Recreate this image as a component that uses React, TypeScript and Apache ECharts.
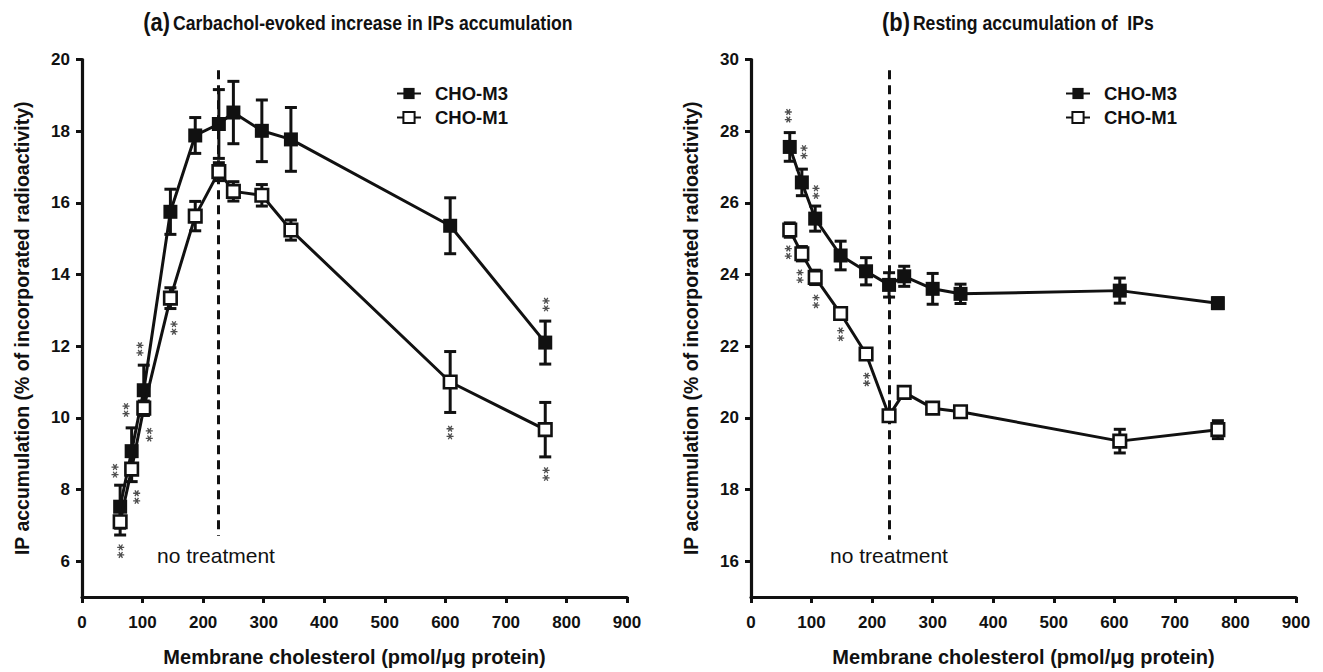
import React, { useEffect, useRef } from "react";
import * as echarts from "echarts";

// ---------- data ----------
const cholA = [63, 82, 102, 146, 187, 226, 250, 297, 345, 608, 765];
const m3A = [7.52, 9.07, 10.77, 15.75, 17.88, 18.2, 18.52, 18.01, 17.77, 15.36, 12.1];
const m3AErr = [0.6, 0.65, 0.7, 0.63, 0.5, 0.96, 0.87, 0.86, 0.89, 0.78, 0.6];
const m1A = [7.1, 8.57, 10.27, 13.34, 15.63, 16.87, 16.32, 16.21, 15.24, 11.0, 9.67];
const m1AErr = [0.37, 0.35, 0.2, 0.29, 0.41, 0.25, 0.27, 0.3, 0.28, 0.85, 0.76];

const cholB = [64, 84, 106, 148, 190, 228, 253, 300, 346, 609, 771];
const m3B = [27.56, 26.57, 25.56, 24.53, 24.09, 23.71, 23.95, 23.6, 23.46, 23.55, 23.2];
const m3BErr = [0.4, 0.37, 0.35, 0.4, 0.38, 0.34, 0.28, 0.43, 0.27, 0.35, 0.15];
const m1B = [25.24, 24.58, 23.92, 22.91, 21.78, 20.06, 20.71, 20.27, 20.17, 19.35, 19.67];
const m1BErr = [0.2, 0.2, 0.2, 0.15, 0.15, 0.15, 0.12, 0.1, 0.1, 0.33, 0.25];

// significance marks (**) positions in data units
const starsA = [
  [63.9, 6.28], [54.5, 8.52], [90.3, 7.79], [72.7, 10.22], [111.1, 9.53],
  [95.7, 11.92], [151.9, 12.51], [766.3, 13.16], [766.3, 8.43], [607.8, 9.59],
];
const starsB = [
  [61.6, 28.43], [87.5, 27.42], [107.3, 26.3], [61.6, 24.62], [80.9, 23.95],
  [107.3, 23.25], [148.1, 22.33], [191.1, 21.07],
];

const controlA = 225;
const controlB = 228;
const ticksA = [6, 8, 10, 12, 14, 16, 18, 20];
const ticksB = [16, 18, 20, 22, 24, 26, 28, 30];

const titleA = "Carbachol-evoked increase in IPs accumulation";
const titleB = "Resting accumulation of  IPs";
const xName = "Membrane cholesterol (pmol/\u03bcg protein)";
const yName = "IP accumulation (% of incorporated radioactivity)";

// ---------- styling ----------
const FONT = "'Liberation Sans', Arial, sans-serif";
const INK = "#111";

// vertical double-asterisk glyph as a filled path symbol
function starPath(): string {
  const r = 5;
  const t = 1.9;
  const parts: string[] = [];
  [-5.6, 5.6].forEach((cy) => {
    [0, 60, 120].forEach((deg) => {
      const a = (deg * Math.PI) / 180;
      const ux = Math.cos(a), uy = Math.sin(a);
      const vx = -uy, vy = ux;
      const h = t / 2;
      const p = [
        [r * ux + h * vx, cy + r * uy + h * vy],
        [-r * ux + h * vx, cy - r * uy + h * vy],
        [-r * ux - h * vx, cy - r * uy - h * vy],
        [r * ux - h * vx, cy + r * uy - h * vy],
      ].map((q) => [q[0] + 10, q[1] + 12]);
      parts.push(
        "M" + p.map((q) => q[0].toFixed(3) + " " + q[1].toFixed(3)).join(" L") + " Z"
      );
    });
  });
  return "path://" + parts.join(" ");
}
const STAR = starPath();

function errData(xs: number[], ys: number[], es: number[]) {
  return xs.map((x, i) => [x, ys[i] - es[i], ys[i] + es[i]]);
}

function pts(xs: number[], ys: number[]) {
  return xs.map((x, i) => [x, ys[i]]);
}

const errRender = (params: any, api: any) => {
  const x = api.value(0);
  const lo = api.value(1);
  const hi = api.value(2);
  const p1 = api.coord([x, hi]);
  const p2 = api.coord([x, lo]);
  const w = 6;
  const st = { stroke: INK, lineWidth: 3 };
  return {
    type: "group",
    children: [
      { type: "line", shape: { x1: p1[0], y1: p1[1], x2: p2[0], y2: p2[1] }, style: st },
      { type: "line", shape: { x1: p1[0] - w, y1: p1[1], x2: p1[0] + w, y2: p1[1] }, style: st },
      { type: "line", shape: { x1: p2[0] - w, y1: p2[1], x2: p2[0] + w, y2: p2[1] }, style: st },
    ],
  };
};

function xAxisCfg(gridIndex: number) {
  return {
    type: "value",
    gridIndex,
    min: 0,
    max: 900,
    interval: 100,
    name: xName,
    nameLocation: "middle",
    nameGap: 50,
    nameTextStyle: { fontFamily: FONT, fontWeight: "bold", fontSize: 20, color: INK },
    axisLine: { show: true, lineStyle: { color: INK, width: 3.2 } },
    axisTick: { show: true, length: 6, lineStyle: { color: INK, width: 3 } },
    axisLabel: { margin: 17, fontFamily: FONT, fontWeight: "bold", fontSize: 17, color: INK },
    splitLine: { show: false },
  };
}

function yAxisCfg(gridIndex: number, min: number, max: number, ticks: number[]) {
  return {
    type: "value",
    gridIndex,
    min,
    max,
    name: yName,
    nameLocation: "middle",
    nameGap: 50,
    nameTextStyle: { fontFamily: FONT, fontWeight: "bold", fontSize: 19.5, color: INK },
    axisLine: { show: true, lineStyle: { color: INK, width: 3.2 } },
    axisTick: { show: true, length: 6, lineStyle: { color: INK, width: 3 }, customValues: ticks },
    axisLabel: { margin: 12, fontFamily: FONT, fontWeight: "bold", fontSize: 17, color: INK, customValues: ticks },
    splitLine: { show: false },
  };
}

function panelSeries(
  idx: number,
  xs: number[],
  m3: number[],
  m3e: number[],
  m1: number[],
  m1e: number[],
  stars: number[][],
  ctrl: number,
  dashTop: number,
  dashBottom: number
) {
  return [
    {
      type: "custom",
      xAxisIndex: idx,
      yAxisIndex: idx,
      renderItem: errRender,
      data: errData(xs, m3, m3e),
      encode: { x: 0, y: [1, 2] },
      z: 2,
      silent: true,
    },
    {
      type: "custom",
      xAxisIndex: idx,
      yAxisIndex: idx,
      renderItem: errRender,
      data: errData(xs, m1, m1e),
      encode: { x: 0, y: [1, 2] },
      z: 2,
      silent: true,
    },
    {
      name: "CHO-M3",
      type: "line",
      xAxisIndex: idx,
      yAxisIndex: idx,
      data: pts(xs, m3),
      symbol: "rect",
      symbolSize: 14,
      lineStyle: { color: INK, width: 3 },
      itemStyle: { color: INK, borderColor: INK, borderWidth: 0 },
      z: 4,
      markLine: {
        silent: true,
        symbol: "none",
        label: { show: false },
        lineStyle: { color: INK, width: 3, type: [9, 6] },
        data: [[{ coord: [ctrl, dashTop] }, { coord: [ctrl, dashBottom] }]],
      },
    },
    {
      name: "CHO-M1",
      type: "line",
      xAxisIndex: idx,
      yAxisIndex: idx,
      data: pts(xs, m1),
      symbol: "rect",
      symbolSize: 12.5,
      lineStyle: { color: INK, width: 3 },
      itemStyle: { color: "#fff", borderColor: INK, borderWidth: 2.6 },
      z: 5,
    },
    {
      type: "scatter",
      xAxisIndex: idx,
      yAxisIndex: idx,
      data: stars,
      symbol: STAR,
      symbolSize: [7, 14],
      itemStyle: { color: "#222" },
      silent: true,
      z: 6,
    },
  ];
}

function legendCfg(left: number) {
  return {
    left,
    top: 79,
    orient: "vertical",
    itemWidth: 24,
    itemHeight: 14,
    itemGap: 5,
    selectedMode: false,
    data: ["CHO-M3", "CHO-M1"],
    textStyle: { fontFamily: FONT, fontWeight: "bold", fontSize: 18.5, color: INK, padding: [0, 0, 0, 9] },
  };
}

export default function App() {
  const ref = useRef<HTMLDivElement>(null);

  useEffect(() => {
    if (!ref.current) return;
    const chart = echarts.init(ref.current, null, { renderer: "svg" });
    const richTitle = {
      p: { fontFamily: FONT, fontWeight: "bold", fontSize: 26, fill: INK },
      t: { fontFamily: FONT, fontWeight: "bold", fontSize: 21, fill: INK },
    };
    const title = (x: number, letter: string, text: string) => ({
      type: "text",
      x,
      y: 22,
      scaleX: 0.84,
      style: {
        text: "{p|(" + letter + ")} {t|" + text + "}",
        rich: richTitle,
        align: "center",
        verticalAlign: "middle",
        fill: INK,
      },
    });
    const noTreat = (x: number) => ({
      type: "text",
      x,
      y: 555,
      style: { text: "no treatment", fontFamily: FONT, fontSize: 21, fill: INK, verticalAlign: "middle" },
    });
    chart.setOption({
      animation: false,
      backgroundColor: "#fff",
      grid: [
        { left: 82, top: 59.5, width: 545, height: 545.5 },
        { left: 751, top: 59.5, width: 545, height: 545.5 },
      ],
      xAxis: [xAxisCfg(0), xAxisCfg(1)],
      yAxis: [yAxisCfg(0, 5, 20, ticksA), yAxisCfg(1, 15, 30, ticksB)],
      legend: [legendCfg(391), legendCfg(1060)],
      series: [
        ...panelSeries(0, cholA, m3A, m3AErr, m1A, m1AErr, starsA, controlA, 19.7, 6.7),
        ...panelSeries(1, cholB, m3B, m3BErr, m1B, m1BErr, starsB, controlB, 29.7, 16.6),
      ],
      graphic: [
        title(358, "a", titleA),
        title(1018, "b", titleB),
        noTreat(157),
        noTreat(830),
      ],
    });
    return () => chart.dispose();
  }, []);

  return (
    <div
      ref={ref}
      style={{ position: "fixed", left: 0, top: 0, width: 1323, height: 672, background: "#fff" }}
    />
  );
}
